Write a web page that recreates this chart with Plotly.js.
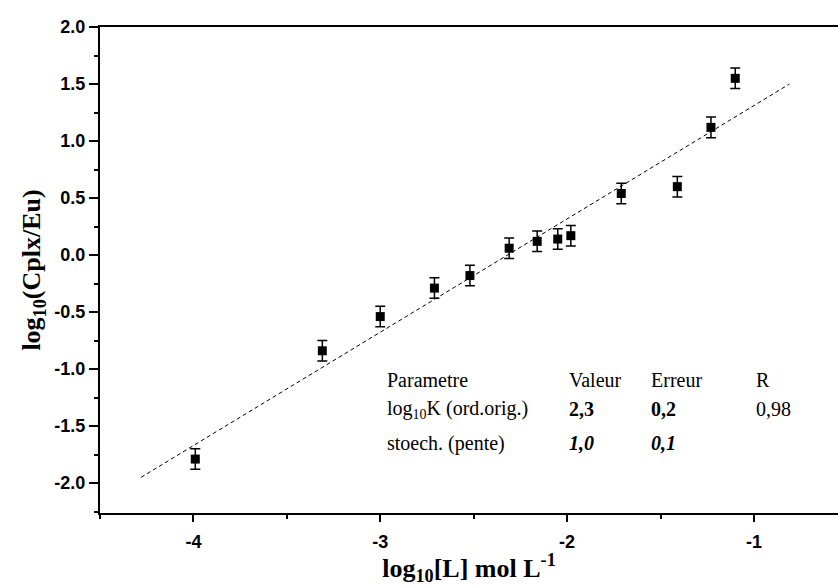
<!DOCTYPE html>
<html>
<head>
<meta charset="utf-8">
<script src="https://cdn.plot.ly/plotly-3.0.1.min.js"></script>
<style>html,body{margin:0;padding:0;background:#fff;}#chart{width:838px;height:586px;}</style>
</head>
<body>
<div id="chart"></div>
<script>
// Data
const logL   = [-3.99, -3.31, -3.00, -2.71, -2.52, -2.31, -2.16, -2.05, -1.98, -1.71, -1.41, -1.23, -1.10];
const logCE  = [-1.79, -0.84, -0.54, -0.29, -0.18, 0.06, 0.12, 0.14, 0.17, 0.54, 0.60, 1.12, 1.55];
const errCE  = [0.09, 0.09, 0.09, 0.09, 0.09, 0.09, 0.09, 0.09, 0.09, 0.09, 0.09, 0.09, 0.09];
const fitX   = [-4.28, -0.81];
const fitY   = [-1.95, 1.50];
const xTicks = [-4, -3, -2, -1];
const yTicks = [-2.0, -1.5, -1.0, -0.5, 0.0, 0.5, 1.0, 1.5, 2.0];
const tableCols = ["Parametre", "Valeur", "Erreur", "R"];
const tableRow1 = ["log<sub>10</sub>K (ord.orig.)", "<b>2,3</b>", "<b>0,2</b>", "0,98"];
const tableRow2 = ["stoech. (pente)", "<b><i>1,0</i></b>", "<b><i>0,1</i></b>", ""];

const W = 838, H = 586;
const M = {l: 100, r: 0, t: 27, b: 73};
const pw = W - M.l - M.r, ph = H - M.t - M.b;
const px = v => (v - M.l) / pw;
const py = v => (H - M.b - v) / ph;

const colX = [385, 567, 649, 754];
const rowY = [380, 409, 443];
const rows = [tableCols, tableRow1, tableRow2];
const annotations = [];
rows.forEach((r, i) => r.forEach((t, j) => {
  if (!t) return;
  annotations.push({
    text: t, xref: 'paper', yref: 'paper', x: px(colX[j]), y: py(rowY[i]),
    xanchor: 'left', yanchor: 'middle', showarrow: false,
    font: {family: 'Liberation Serif, Times New Roman, serif', size: 20, color: '#000'}
  });
}));

const traces = [
  {
    x: fitX, y: fitY, mode: 'lines', type: 'scatter',
    line: {color: '#000', width: 1, dash: '4px,3px'}, hoverinfo: 'skip'
  },
  {
    x: logL, y: logCE, mode: 'markers', type: 'scatter',
    marker: {symbol: 'square', size: 9, color: '#000'},
    error_y: {type: 'data', array: errCE, visible: true, color: '#000', thickness: 1.5, width: 5}
  }
];

const tickFont = {family: 'Liberation Sans, Arial, sans-serif', size: 18, color: '#000', weight: 'bold'};
const titleFont = {family: 'Liberation Serif, Times New Roman, serif', size: 26, color: '#000', weight: 'bold'};

const layout = {
  width: W, height: H, margin: M, showlegend: false,
  paper_bgcolor: '#fff', plot_bgcolor: '#fff',
  xaxis: {
    range: [-4.5, -0.55], showgrid: false, zeroline: false,
    showline: true, linecolor: '#000', linewidth: 2, mirror: true,
    ticks: 'outside', ticklen: 7, tickwidth: 2, tickcolor: '#000',
    tickvals: xTicks, ticktext: xTicks.map(v => String(v)),
    ticklabelstandoff: 4,
    minor: {dtick: 0.5, tick0: 0, ticks: 'outside', ticklen: 4, tickwidth: 2, tickcolor: '#000', showgrid: false},
    tickfont: tickFont,
    title: {text: '<b>log<sub>10</sub>[L] mol L<sup>-1</sup></b>', font: titleFont, standoff: 4}
  },
  yaxis: {
    range: [-2.263, 2.0005], showgrid: false, zeroline: false,
    showline: true, linecolor: '#000', linewidth: 2, mirror: false,
    ticks: 'outside', ticklen: 9, tickwidth: 2, tickcolor: '#000',
    tickvals: yTicks, ticktext: yTicks.map(v => v.toFixed(1)),
    minor: {dtick: 0.25, tick0: 0, ticks: 'outside', ticklen: 4, tickwidth: 2, tickcolor: '#000', showgrid: false},
    tickfont: tickFont,
    title: {text: '<b>log<sub>10</sub>(Cplx/Eu)</b>', font: titleFont, standoff: 6}
  },
  annotations: annotations
};

Plotly.newPlot('chart', traces, layout, {displayModeBar: false, staticPlot: true});
</script>
</body>
</html>
